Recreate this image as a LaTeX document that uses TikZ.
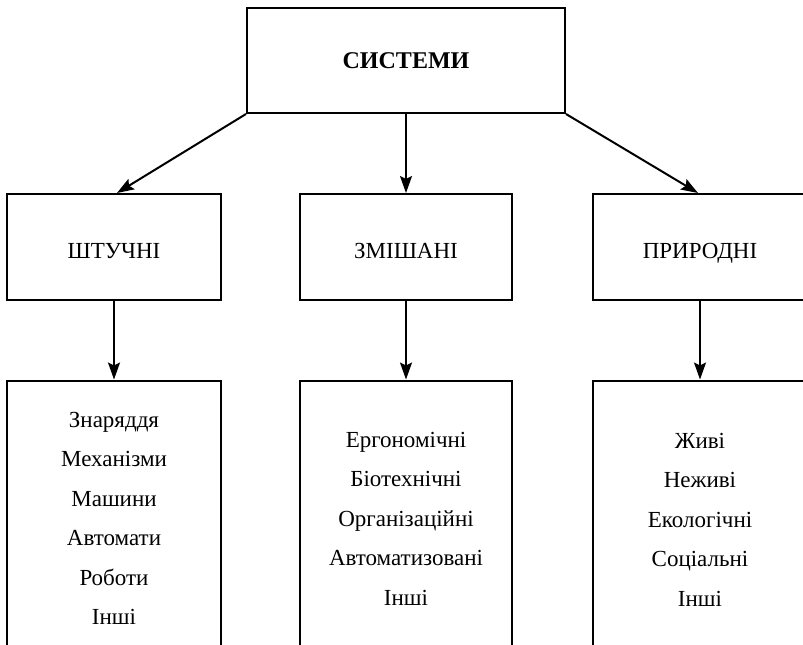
\documentclass[tikz,border=0pt]{standalone}
\usepackage{fontspec}
\setmainfont{Liberation Serif}
\usetikzlibrary{arrows.meta}

\tikzset{
  box/.style={draw, line width=2pt, minimum width=214pt, inner sep=0pt},
  headbox/.style={box, minimum width=318pt, minimum height=105pt,
    text height=15pt, text depth=0pt,
    font=\fontsize{24}{28}\selectfont\bfseries},
  kindbox/.style={box, minimum height=106pt, text height=22pt, text depth=0pt,
    font=\fontsize{23}{28}\selectfont},
  listbox/.style={box, minimum height=320pt, anchor=north},
  listtext/.style={align=center, inner sep=0pt, font=\fontsize{23}{39.5}\selectfont},
  link/.style={line width=2pt, -{Stealth[length=17pt, width=12pt, inset=3pt]}}
}

\begin{document}
\begin{tikzpicture}[x=1pt, y=-1pt]
  \clip (0,0) rectangle (803,645);
  \fill[white] (0,0) rectangle (803,645);

  % root of the classification
  \node[headbox] (sys) at (406,60.5) {СИСТЕМИ};

  % three kinds of systems
  \node[kindbox] (art) at (114,247) {ШТУЧНІ};
  \node[kindbox, minimum width=212pt] (mix) at (406,247) {ЗМІШАНІ};
  \node[kindbox] (nat) at (700,247) {ПРИРОДНІ};

  % boxes with the examples of each kind
  \node[listbox] (artl) at (114,379.5) {};
  \node[listbox, minimum width=212pt] (mixl) at (406,379.5) {};
  \node[listbox] (natl) at (700,379.5) {};

  \node[listtext] (artt) at ([yshift=-139pt]artl.north)
    {Знаряддя\\Механізми\\Машини\\Автомати\\Роботи\\Інші};
  \node[listtext] (mixt) at ([yshift=-139pt]mixl.north)
    {Ергономічні\\Біотехнічні\\Організаційні\\Автоматизовані\\Інші};
  \node[listtext] (natt) at ([yshift=-140pt]natl.north)
    {Живі\\Неживі\\Екологічні\\Соціальні\\Інші};

  % connectors
  \draw[link] (sys.south west) -- ([xshift=3pt]art.north);
  \draw[link] (sys.south) -- (mix.north);
  \draw[link] (sys.south east) -- ([xshift=-2pt]nat.north);
  \draw[link] (art.south) -- (artl.north);
  \draw[link] (mix.south) -- (mixl.north);
  \draw[link] (nat.south) -- (natl.north);
\end{tikzpicture}
\end{document}
